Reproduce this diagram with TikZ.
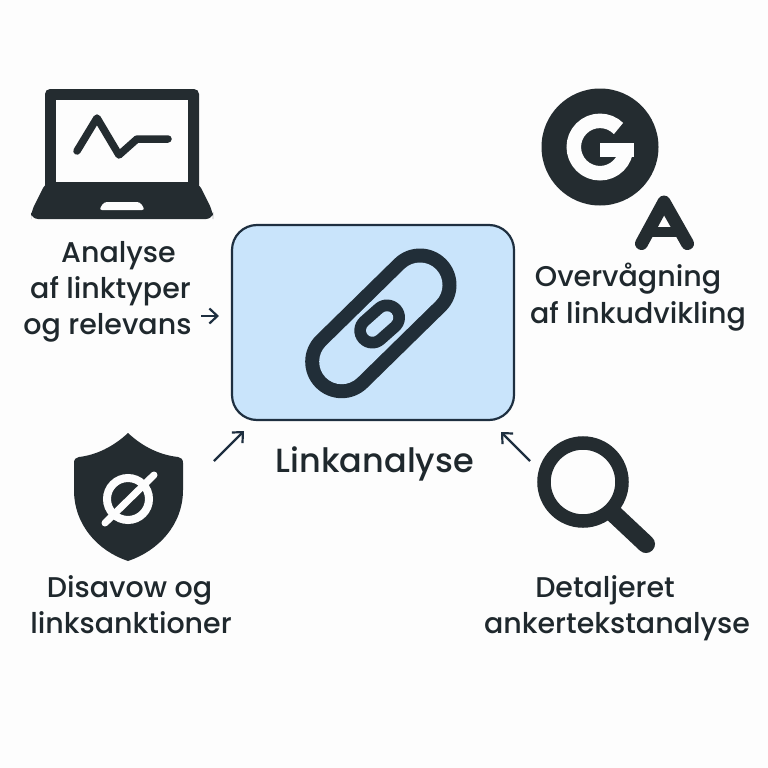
\documentclass[tikz,border=0pt]{standalone}
\usepackage{fontspec}
\setmainfont{Poppins}[UprightFont=* Medium]
\definecolor{ink}{HTML}{242C30}
\definecolor{txt}{HTML}{1F282D}
\definecolor{navy}{HTML}{1E2F40}
\definecolor{linkc}{HTML}{212E38}
\definecolor{pale}{HTML}{C9E4FB}
\definecolor{paper}{HTML}{FDFDFD}
\usetikzlibrary{arrows.meta}
\tikzset{
  lbl/.style={anchor=base,inner sep=0pt,text=txt,font=\fontsize{28.5}{34}\selectfont},
  bigl/.style={lbl,font=\fontsize{33.5}{40}\selectfont},
  arr/.style={draw=navy,line width=2.2pt,-{Straight Barb[length=8pt,width=15pt,line width=2.2pt]}},
  icon/.style={draw=ink,line cap=round,line join=round},
  knock/.style={draw=paper,line cap=round,line join=round}
}
\begin{document}
\begin{tikzpicture}[x=1pt,y=-1pt]
\useasboundingbox[fill=paper] (0,0) rectangle (768,768);
% central box
\node[draw=navy,fill=pale,line width=2.2pt,rounded corners=25pt,minimum width=282pt,minimum height=195pt,inner sep=0pt] (box) at (373,322.5) {};
% link icon
\draw[draw=linkc,line width=73pt,line cap=round] (420,285) -- (341.7,361.7);
\draw[draw=pale,line width=45pt,line cap=round] (420,285) -- (341.7,361.7);
\draw[draw=linkc,line width=36pt,line cap=round] (387,317.5) -- (372.3,330.5);
\draw[draw=pale,line width=12.5pt,line cap=round] (387,317.5) -- (372.3,330.5);
% laptop
\fill[ink,rounded corners=5pt] (45,190) -- (45,89) -- (199,89) -- (199,190) -- cycle;
\fill[paper] (56,100) rectangle (188,182);
\fill[ink,rounded corners=7pt] (46,182) -- (198,182) -- (213,212) -- (213,219) -- (31,219) -- (31,212) -- cycle;
\fill[paper,rounded corners=3pt] (104,202) -- (140,202) -- (145,210) -- (99,210) -- cycle;
\draw[icon,line width=7.5pt] (77,151) -- (97,118) -- (119,155) -- (137,139) -- (168,139);
% G icon
\fill[ink] (600,147) circle[radius=58.5];
\draw[draw=paper,line width=14.5pt] (618.5,128.5) arc[start angle=-45,end angle=-360,radius=26.2];
\fill[paper] (600,143) rectangle (633.5,157);
% A icon
\draw[icon,line width=13pt] (641.5,243.5) -- (664,202) -- (687.5,243.5);
\draw[icon,line width=10pt,line cap=butt] (651,232) -- (678,232);
% shield
\fill[ink] (128,433) .. controls (143,447) and (160,455) .. (178,457) .. controls (181,457.5) and (183,459) .. (183,463) -- (183,490) .. controls (183,525) and (158,551) .. (128,561) .. controls (98,551) and (74,525) .. (74,490) -- (74,463) .. controls (74,459) and (76,457.5) .. (79,457) .. controls (96,455) and (113,447) .. (128,433) -- cycle;
\draw[draw=paper,line width=8pt] (128,499) circle[radius=21];
\draw[knock,line width=7pt] (105,523) -- (154,475);
% magnifier
\draw[icon,line width=18pt] (613,513) -- (646,544);
\draw[draw=ink,line width=13.5pt] (583,482) circle[radius=39];
% labels
\node[lbl] (a1) at (118.5,262) {Analyse};
\node[lbl] (a2) at (110.5,298) {af linktyper};
\node[lbl] (a3) at (107.5,334) {og relevans};
\node[lbl] (b1) at (628,286) {Overvågning};
\node[lbl] (b2) at (638,323) {af linkudvikling};
\node[bigl] (c) at (375,472) {Linkanalyse};
\node[lbl] (d1) at (129.5,597) {Disavow og};
\node[lbl] (d2) at (131,633) {linksanktioner};
\node[lbl] (e1) at (605,597) {Detaljeret};
\node[lbl] (e2) at (617,633) {ankertekstanalyse};
% arrows
\coordinate (p1) at (201,316); \coordinate (q1) at (219,316);
\coordinate (p2) at (214,461); \coordinate (q2) at (244,431);
\coordinate (p3) at (530,461); \coordinate (q3) at (501,432);
\draw[arr] (p1) -- (q1);
\draw[arr] (p2) -- (q2);
\draw[arr] (p3) -- (q3);
\end{tikzpicture}
\end{document}
